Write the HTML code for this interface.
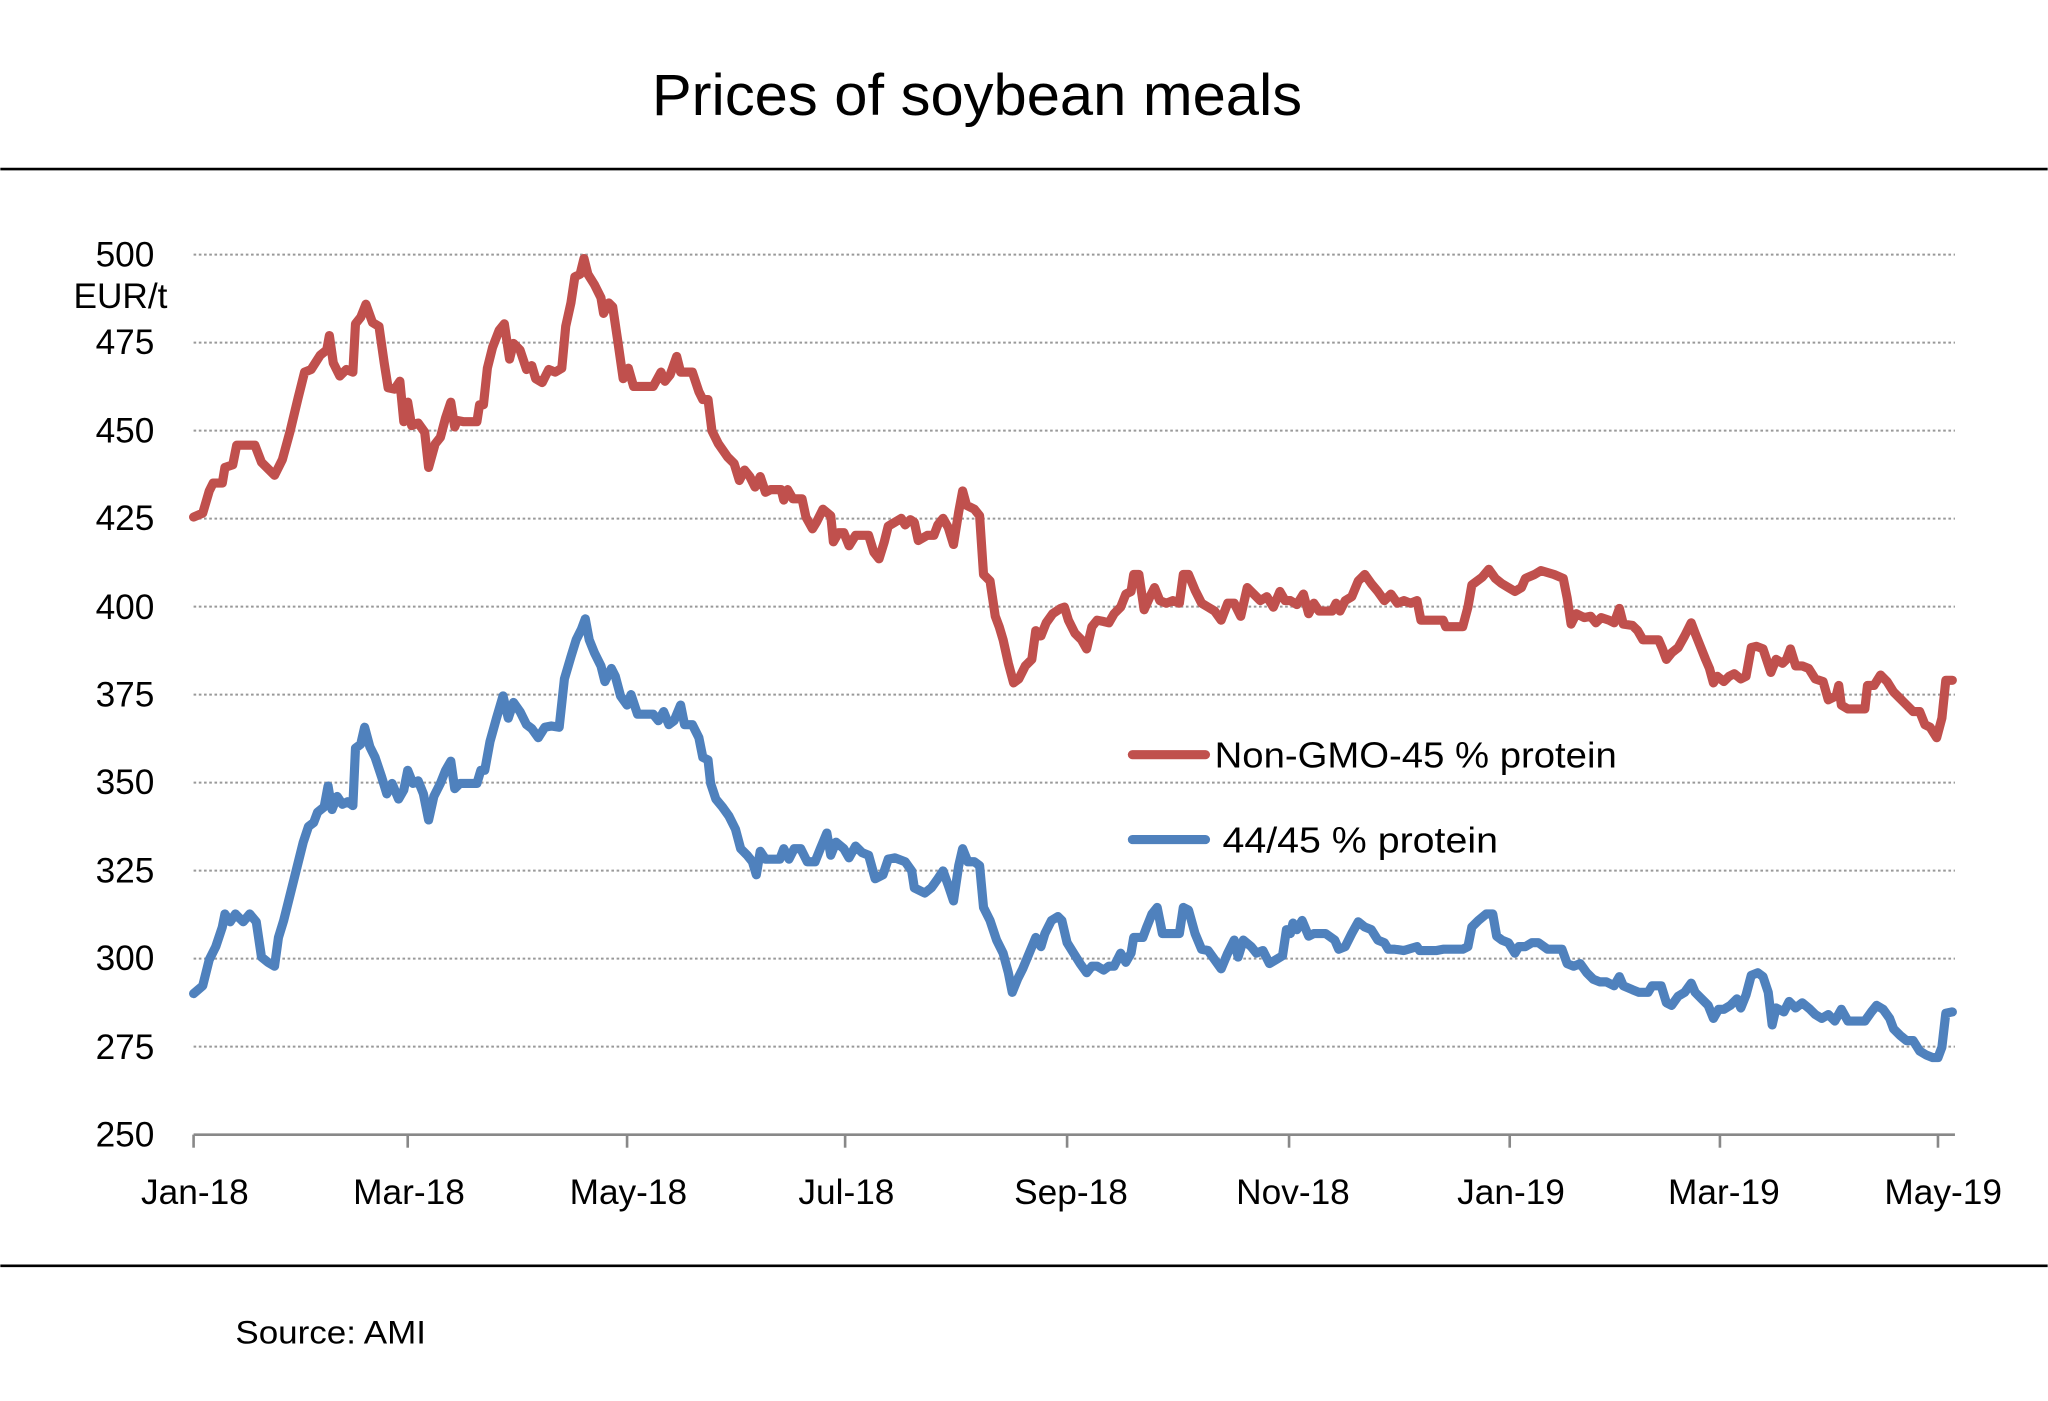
<!DOCTYPE html>
<html><head><meta charset="utf-8"><style>html,body{margin:0;padding:0;background:#fff}svg{display:block}</style></head>
<body>
<svg width="2048" height="1401" viewBox="0 0 1568 1073" xmlns="http://www.w3.org/2000/svg" font-family="Liberation Sans, DejaVu Sans, sans-serif">
<rect width="1568" height="1073" fill="#fff"/>
<text x="499" y="88" font-size="45" textLength="498" lengthAdjust="spacingAndGlyphs" fill="#000">Prices of soybean meals</text>
<line x1="0" y1="129.5" x2="1568" y2="129.5" stroke="#000" stroke-width="2"/>
<line x1="0" y1="969.5" x2="1568" y2="969.5" stroke="#000" stroke-width="2"/>
<g stroke="#999" stroke-width="1.6" stroke-dasharray="2,2">
<line x1="148" y1="195" x2="1497" y2="195"/><line x1="148" y1="262.4" x2="1497" y2="262.4"/>
<line x1="148" y1="329.8" x2="1497" y2="329.8"/><line x1="148" y1="397.2" x2="1497" y2="397.2"/>
<line x1="148" y1="464.6" x2="1497" y2="464.6"/><line x1="148" y1="532" x2="1497" y2="532"/>
<line x1="148" y1="599.4" x2="1497" y2="599.4"/><line x1="148" y1="666.8" x2="1497" y2="666.8"/>
<line x1="148" y1="734.2" x2="1497" y2="734.2"/><line x1="148" y1="801.6" x2="1497" y2="801.6"/>
</g>
<g stroke="#888" stroke-width="2" fill="none">
<line x1="148" y1="869" x2="1497" y2="869"/>
<line x1="148" y1="869" x2="148" y2="879"/><line x1="312" y1="869" x2="312" y2="879"/>
<line x1="480" y1="869" x2="480" y2="879"/><line x1="647" y1="869" x2="647" y2="879"/>
<line x1="817" y1="869" x2="817" y2="879"/><line x1="987" y1="869" x2="987" y2="879"/>
<line x1="1156" y1="869" x2="1156" y2="879"/><line x1="1317" y1="869" x2="1317" y2="879"/>
<line x1="1484" y1="869" x2="1484" y2="879"/>
</g>
<g font-size="27" text-anchor="end" fill="#000">
<text x="118" y="204">500</text><text x="128" y="236">EUR/t</text>
<text x="118" y="271">475</text><text x="118" y="339">450</text><text x="118" y="406">425</text>
<text x="118" y="474">400</text><text x="118" y="541">375</text><text x="118" y="608">350</text>
<text x="118" y="676">325</text><text x="118" y="743">300</text><text x="118" y="811">275</text>
<text x="118" y="878">250</text>
</g>
<g font-size="27" text-anchor="middle" fill="#000">
<text x="149" y="922">Jan-18</text><text x="313" y="922">Mar-18</text><text x="481" y="922">May-18</text>
<text x="648" y="922">Jul-18</text><text x="820" y="922">Sep-18</text><text x="990" y="922">Nov-18</text>
<text x="1157" y="922">Jan-19</text><text x="1320" y="922">Mar-19</text><text x="1488" y="922">May-19</text>
</g>
<text x="180" y="1029" font-size="25" textLength="146" lengthAdjust="spacingAndGlyphs" fill="#000">Source: AMI</text>
<g fill="none" stroke-width="7" stroke-linejoin="round" stroke-linecap="round">
<polyline stroke="#c0504d" points="148,396 155,393 160,376 163,370 170,370 172,358 178,356 181,341 195,341 200,354 210,364 216,352 222,330 228,305 233,285 238,283 245,272 250,268 252,257 255,278 260,288 265,283 270,285 272,248 276,243 280,233 285,247 290,250 294,278 297,297 302,298 306,292 309,323 312,308 315,326 320,324 325,331 328,358 333,340 337,335 341,320 345,308 348,327 350,322 355,323 365,323 367,310 370,310 373,282 377,266 382,253 386,248 390,275 393,263 398,268 403,283 407,280 410,290 415,293 420,283 425,285 430,282 433,250 437,232 440,212 444,210 447,198 450,210 455,218 460,228 462,240 466,232 469,235 473,262 477,290 481,282 485,296 490,296 500,296 506,285 509,292 513,287 518,273 521,285 530,285 535,300 538,306 542,306 545,330 550,340 557,350 562,355 566,368 570,360 574,365 578,373 582,365 586,377 590,375 598,375 600,383 603,375 607,382 614,382 617,396 622,405 625,400 630,390 636,395 638,415 642,408 646,408 650,418 655,410 660,410 665,410 669,423 673,428 677,415 680,403 685,400 690,397 693,402 697,398 700,400 703,414 710,410 715,410 718,402 722,397 726,404 730,417 734,392 737,376 740,387 746,390 750,395 753,440 758,445 762,472 765,480 768,490 772,508 776,523 780,520 785,510 790,505 793,483 797,487 801,477 806,470 812,466 815,465 818,475 823,485 828,490 832,497 836,480 840,475 845,476 849,477 853,470 858,465 862,455 866,453 868,440 872,440 876,467 880,458 884,450 888,460 893,462 898,460 903,462 906,440 910,440 915,452 920,462 925,465 930,468 935,475 940,462 945,462 950,472 955,450 960,455 965,460 970,457 975,465 980,453 984,460 988,460 993,463 998,455 1002,470 1006,462 1010,468 1020,468 1023,462 1026,468 1030,460 1035,457 1040,445 1045,440 1050,447 1055,453 1060,460 1065,455 1070,462 1075,460 1080,462 1085,460 1088,475 1095,475 1105,475 1107,480 1120,480 1124,465 1127,448 1135,442 1140,436 1145,443 1150,447 1155,450 1160,453 1165,450 1168,443 1175,440 1180,437 1190,440 1197,443 1200,458 1203,478 1207,470 1213,473 1218,472 1222,477 1226,473 1232,475 1236,477 1240,466 1243,478 1250,479 1254,483 1258,490 1270,490 1273,497 1276,505 1280,500 1285,496 1290,487 1295,477 1298,485 1302,495 1306,505 1309,512 1312,523 1315,518 1320,522 1324,518 1328,516 1333,520 1337,518 1341,496 1345,495 1350,497 1356,515 1360,505 1365,508 1368,505 1371,497 1375,510 1380,510 1385,512 1390,520 1396,522 1400,536 1406,533 1408,525 1410,540 1415,543 1428,543 1430,525 1435,525 1440,517 1445,522 1450,530 1455,535 1460,540 1465,545 1470,545 1474,555 1478,557 1483,565 1487,550 1490,521 1495,521"/>
<polyline stroke="#4f81bd" points="148,761 155,755 160,735 165,725 170,710 172,700 176,706 180,700 186,706 191,700 196,706 200,733 205,737 210,740 213,718 217,705 222,685 227,665 232,645 236,633 240,630 243,622 248,618 251,602 254,620 258,610 262,616 266,614 270,617 272,573 276,570 279,557 283,572 287,580 292,595 296,608 300,600 305,612 309,605 312,590 316,600 320,598 324,608 328,628 332,610 337,600 341,590 345,583 348,604 352,600 365,600 368,590 371,590 375,568 380,550 385,533 389,550 393,538 398,545 403,555 407,558 412,565 417,557 422,556 428,557 432,520 437,503 441,490 445,482 448,474 451,490 455,500 460,510 463,522 468,512 471,518 475,533 480,540 483,532 488,547 493,547 500,547 504,552 508,545 512,555 516,552 521,540 524,555 530,555 535,565 538,580 542,582 544,600 548,612 553,618 558,625 563,635 567,650 572,655 576,660 579,670 582,652 586,658 590,658 597,658 600,650 604,658 608,650 613,650 618,660 624,660 628,650 633,638 636,655 640,645 646,650 650,657 655,648 660,653 665,655 670,673 676,670 680,658 685,657 693,660 698,667 700,680 708,684 713,680 718,673 722,667 726,678 730,690 734,663 737,650 741,660 746,660 750,663 753,695 758,705 763,720 768,730 772,745 775,760 779,750 783,742 788,730 793,718 797,725 800,715 805,705 810,702 813,705 817,722 822,730 827,738 832,745 836,740 840,740 845,743 849,740 853,740 858,730 862,737 866,730 868,718 875,718 878,710 882,700 886,695 890,715 895,715 903,715 906,695 910,697 915,715 920,727 925,728 930,735 935,742 940,730 945,720 948,733 952,720 958,725 962,730 967,728 972,738 977,735 982,732 985,712 988,715 990,707 993,712 997,705 1002,717 1006,715 1015,715 1022,720 1025,727 1030,725 1035,715 1040,706 1045,710 1050,712 1055,720 1060,722 1063,727 1068,727 1075,728 1085,725 1087,728 1100,728 1105,727 1120,727 1124,725 1127,710 1132,705 1138,700 1143,700 1146,717 1150,720 1155,722 1160,730 1163,725 1168,725 1173,722 1178,722 1185,727 1192,727 1196,727 1200,738 1205,740 1210,738 1215,745 1220,750 1225,752 1230,752 1236,755 1240,748 1243,755 1250,758 1255,760 1262,760 1265,755 1272,755 1276,768 1280,770 1285,763 1290,760 1295,753 1298,760 1303,765 1308,770 1312,780 1316,773 1320,773 1325,770 1330,765 1333,772 1337,762 1341,747 1346,745 1350,748 1354,760 1357,785 1360,772 1366,775 1370,767 1375,772 1380,768 1386,773 1390,777 1395,780 1400,777 1405,782 1410,773 1415,782 1428,782 1433,775 1437,770 1442,773 1447,780 1450,788 1455,793 1460,797 1465,797 1470,805 1475,808 1480,810 1484,810 1487,802 1490,776 1495,775"/>
<line x1="867" y1="578" x2="923" y2="578" stroke="#c0504d"/>
<line x1="867" y1="643" x2="923" y2="643" stroke="#4f81bd"/>
</g>
<text x="930" y="588" font-size="28" textLength="308" lengthAdjust="spacingAndGlyphs" fill="#000">Non-GMO-45 % protein</text>
<text x="936" y="653" font-size="28" textLength="211" lengthAdjust="spacingAndGlyphs" fill="#000">44/45 % protein</text>
</svg>
</body></html>
